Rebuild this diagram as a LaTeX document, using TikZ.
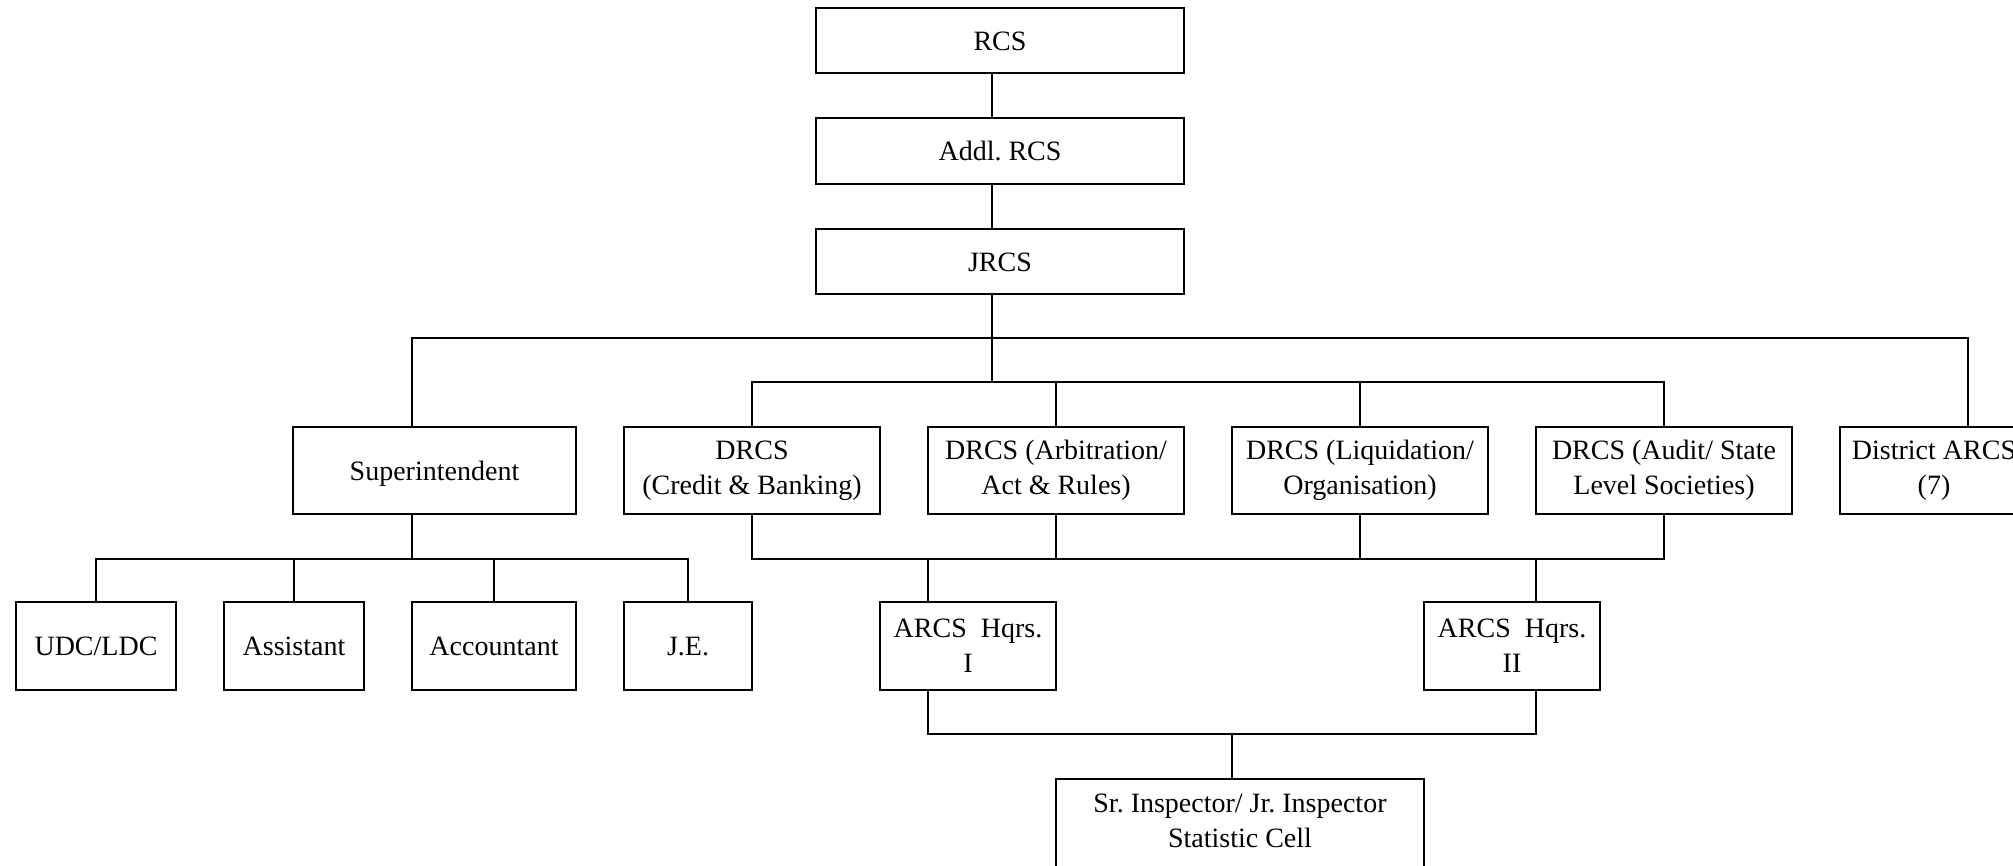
\documentclass[tikz,border=0pt]{standalone}
\usepackage{fontspec}
\setmainfont{Liberation Serif}
\frenchspacing
\begin{document}
\begin{tikzpicture}[x=1pt,y=-1pt,
  box/.style={draw, line width=2.2pt, inner sep=0pt, outer sep=0pt,
    align=center, font=\fontsize{28}{35}\selectfont},
  one/.style={box, text height=19.5pt, text depth=0pt},
  two/.style={box},
  link/.style={line width=2.2pt}
]
\useasboundingbox (0,0) rectangle (2013,865);
\clip (0,0) rectangle (2013,865);

% top of the hierarchy
\node[one, minimum width=368pt, minimum height=65pt] (rcs)  at (1000,40.5)  {RCS};
\node[one, minimum width=368pt, minimum height=66pt] (addl) at (1000,151)   {Addl. RCS};
\node[one, minimum width=368pt, minimum height=65pt] (jrcs) at (1000,261.5) {JRCS};

% second level
\node[one, minimum width=283pt, minimum height=87pt] (sup) at (434.5,470.5) {Superintendent};
\node[two, minimum width=256pt, minimum height=87pt] (cb)  at (752,470.5)  {DRCS\\(Credit \& Banking)};
\node[two, minimum width=256pt, minimum height=87pt] (ar)  at (1056,470.5) {DRCS (Arbitration/\\Act \& Rules)};
\node[two, minimum width=256pt, minimum height=87pt] (lq)  at (1360,470.5) {DRCS (Liquidation/\\Organisation)};
\node[two, minimum width=256pt, minimum height=87pt] (au)  at (1664,470.5) {DRCS (Audit/ State\\Level Societies)};
\node[two, minimum width=188pt, minimum height=87pt] (dist) at (1934,470.5) {District ARCS\\(7)};

% office staff
\node[one, minimum width=160pt, minimum height=88pt] (udc) at (96,646)  {UDC/LDC};
\node[one, minimum width=140pt, minimum height=88pt] (as)  at (294,646) {Assistant};
\node[one, minimum width=164pt, minimum height=88pt] (ac)  at (494,646) {Accountant};
\node[one, minimum width=128pt, minimum height=88pt] (je)  at (688,646) {J.E.};

% headquarters
\node[two, minimum width=176pt, minimum height=88pt] (h1) at (968,646)  {ARCS\ \ Hqrs.\\I};
\node[two, minimum width=176pt, minimum height=88pt] (h2) at (1512,646) {ARCS\ \ Hqrs.\\II};
\node[two, minimum width=368pt, minimum height=94pt] (sr) at (1240,826)
  {Sr. Inspector/ Jr. Inspector\\Statistic Cell\rule[-11pt]{0pt}{11pt}};

% junction points of the connectors
\coordinate (spine) at (992,338);
\coordinate (mainL) at (412,338);
\coordinate (mainR) at (1968,338);
\coordinate (dbus)  at (992,382);
\coordinate (sbus)  at (412,559);
\coordinate (hI)    at (928,559);
\coordinate (hII)   at (1536,559);
\coordinate (lbus)  at (1232,734);

% RCS -> Addl. RCS -> JRCS
\draw[link] (rcs.south -| spine) -- (addl.north -| spine);
\draw[link] (addl.south -| spine) -- (jrcs.north -| spine);
\draw[link] (jrcs.south -| spine) -- (dbus);

% main bus to Superintendent and District ARCS
\draw[link] (sup.north -| mainL) -- (mainL) -- (mainR) -- (dist.north -| mainR);

% DRCS bus (top)
\draw[link] (cb.north) -- (cb.north |- dbus) -- (au.north |- dbus) -- (au.north);
\draw[link] (ar.north) -- (ar.north |- dbus);
\draw[link] (lq.north) -- (lq.north |- dbus);

% DRCS bus (bottom)
\draw[link] (cb.south) -- (cb.south |- hI) -- (au.south |- hI) -- (au.south);
\draw[link] (ar.south) -- (ar.south |- hI);
\draw[link] (lq.south) -- (lq.south |- hI);
\draw[link] (hI) -- (h1.north -| hI);
\draw[link] (hII) -- (h2.north -| hII);

% headquarters to the inspectors
\draw[link] (h1.south -| hI) -- (hI |- lbus) -- (hII |- lbus) -- (h2.south -| hII);
\draw[link] (lbus) -- (sr.north -| lbus);

% Superintendent to office staff
\draw[link] (sup.south -| sbus) -- (sbus);
\draw[link] (udc.north) -- (udc.north |- sbus) -- (je.north |- sbus) -- (je.north);
\draw[link] (as.north) -- (as.north |- sbus);
\draw[link] (ac.north) -- (ac.north |- sbus);
\end{tikzpicture}
\end{document}
